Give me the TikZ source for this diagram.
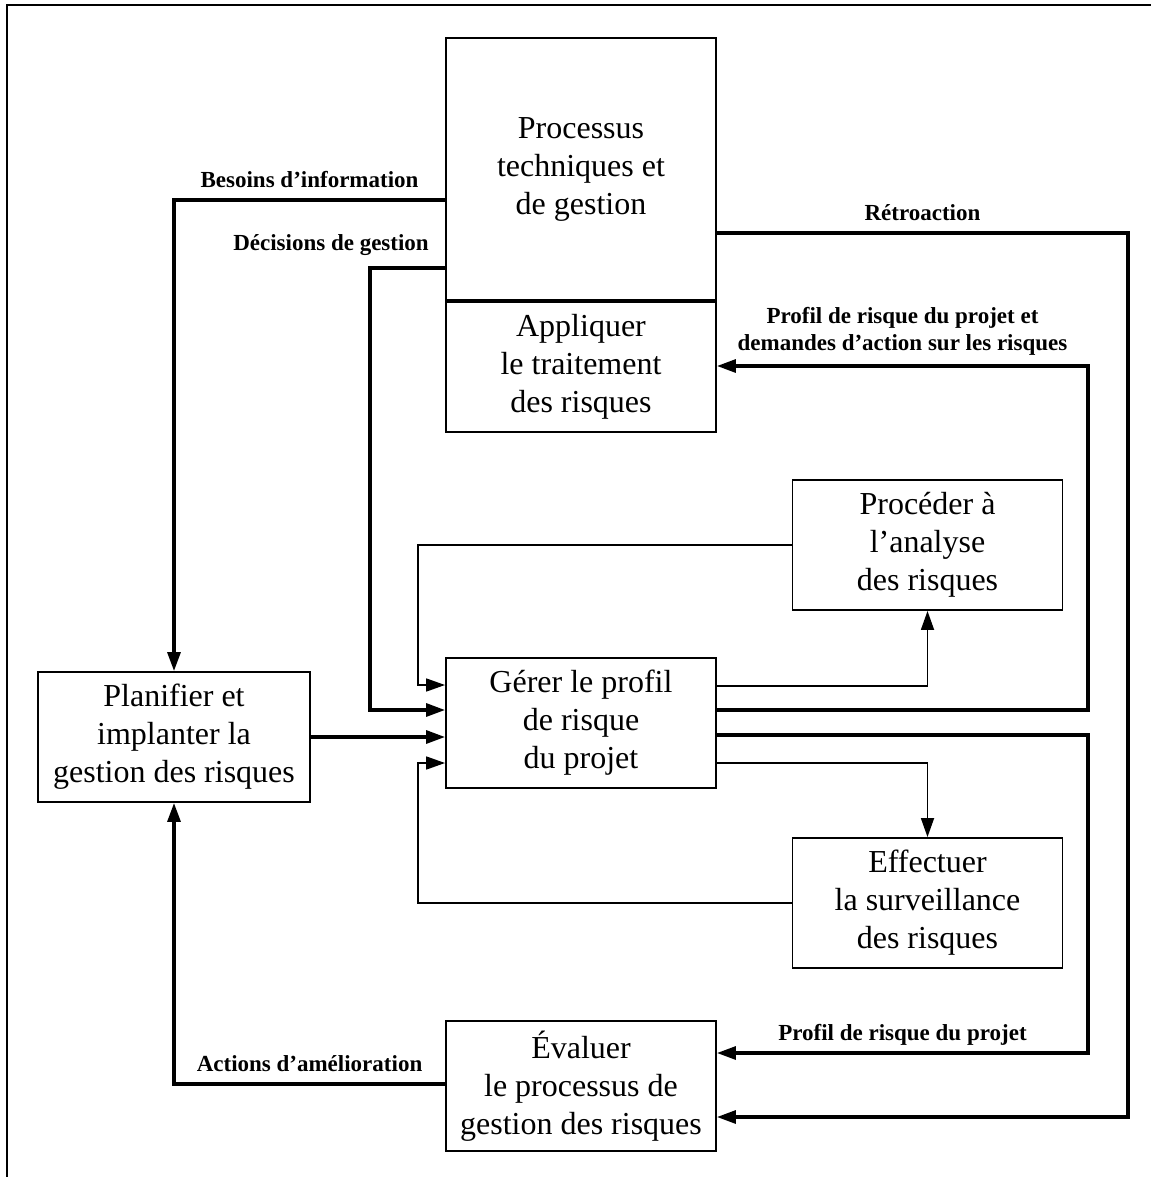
\documentclass[tikz,border=0pt]{standalone}
\usepackage{fontspec}
\setmainfont{Liberation Serif}
\usetikzlibrary{arrows.meta,positioning}

\begin{document}
\begin{tikzpicture}[x=1pt, y=-1pt, >={Triangle[length=19pt,width=13pt]},
  every node/.style={align=center},
  box/.style={draw, line width=1.9pt, minimum width=270pt, minimum height=130pt, inner sep=0pt,
    font=\fontsize{32}{38}\selectfont},
  lbl/.style={font=\bfseries\fontsize{23}{27}\selectfont, inner sep=2pt},
  etiq/.style={lbl, anchor=base, yshift=13pt},
  flux/.style={->, line width=3.2pt},
  lien/.style={->, line width=1.7pt}]
  \useasboundingbox (0,0) rectangle (1151,1177);
  % cadre
  \draw[line width=2.2pt] (7,1177) -- (7,5) -- (1151,5);

  \node[box, minimum height=262pt] (proc) at (581,169) {Processus\\techniques et\\de gestion};
  \node[box, below=0pt of proc] (appl) {Appliquer\\le traitement\\des risques};
  \node[box, minimum width=272pt] (plan) at (174,737) {Planifier et\\implanter la\\gestion des risques};
  \node[box] (gerer) at (581,723) {Gérer le profil\\de risque\\du projet};
  \node[box] (anal) at (927.5,545) {Procéder à\\l’analyse\\des risques};
  \node[box] (surv) at (927.5,903) {Effectuer\\la surveillance\\des risques};
  \node[box] (eval) at (581,1086) {Évaluer\\le processus de\\gestion des risques};

  % liens epais
  \draw[flux] (proc.west |- 0,200) -| node[etiq, pos=0.25] (besoins) {Besoins d’information} (plan.north);
  \draw[flux] (proc.west |- 0,268) -| (370,710) -- (gerer.west |- 0,710);
  \node[lbl, anchor=base] (decis) at (331,250) {Décisions de gestion};
  \draw[flux] (plan.east) -- (gerer.west |- plan.east);
  \draw[flux] (gerer.east |- 0,710) -| (1088,366) -- node[lbl, above=7pt] (profil) {Profil de risque du projet et\\demandes d’action sur les risques} (appl.east |- 0,366);
  \draw[flux] (gerer.east |- 0,735) -| (1088,1053) -- node[etiq] (profil2) {Profil de risque du projet} (eval.east |- 0,1053);
  \draw[flux] (proc.east |- 0,233) -| node[etiq, pos=0.25] (retro) {Rétroaction} (1128,1117) -- (eval.east |- 0,1117);
  \draw[flux] (eval.west |- 0,1084) -| node[etiq, pos=0.25] (actions) {Actions d’amélioration} (plan.south);

  % liens minces
  \draw[lien] (anal.west) -| (418,685) -- (gerer.west |- 0,685);
  \draw[lien] (surv.west) -| (418,763) -- (gerer.west |- 0,763);
  \draw[lien] (gerer.east |- 0,686) -| (anal.south);
  \draw[lien] (gerer.east |- 0,763) -| (surv.north);
\end{tikzpicture}
\end{document}
